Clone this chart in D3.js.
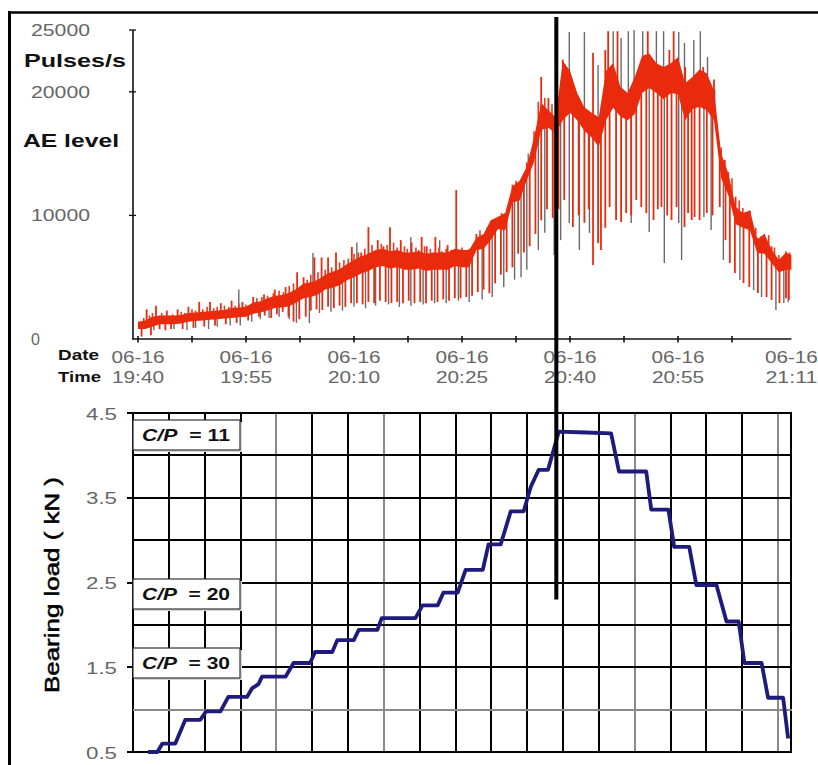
<!DOCTYPE html>
<html><head><meta charset="utf-8">
<script src="https://cdn.jsdelivr.net/npm/d3@7"></script>
<style>body{margin:0;background:#fff}svg{display:block}</style>
</head><body><svg id="c" width="818" height="765"></svg>
<script>
// ---------------- DATA ----------------
const dateLabel = "06-16";
const timeLabels = ["19:40", "19:55", "20:10", "20:25", "20:40", "20:55", "21:11"];
const timeLabelMinutes = [0, 15, 30, 45, 60, 75, 90.75];
const timeTickMinutes = [0, 7.5, 15, 22.5, 30, 37.5, 45, 52.5, 60, 67.5, 75, 82.5];
const aeTickValues = [25000, 20000, 10000, 0];
const aeTickLabels = ["25000", "20000", "10000", "0"];

const aeBandMinutes = [0,1,2,3,4,5,6,7,8,9,10,11,12,13,14,15,16,17,18,19,20,21,22,23,24,25,26,27,28,29,30,
  31,32,33,34,35,36,37,38,39,40,41,42,43,44,45,46,47,48,49,50,51,52,53,54,55,56,57,58,59,60,
  61,62,63,64,65,66,67,68,69,70,71,72,73,74,75,76,77,78,79,80,81,82,83,84,85,86,87,88,89,90,90.75];
const aeLevel = [1100,1150,1400,1550,1550,1550,1600,1750,1800,1850,
  1900,1950,2000,2100,2150,2200,2500,2600,2800,3000,
  3050,3200,3500,3900,4000,4200,4600,4800,5000,5400,
  5700,6000,6200,6500,6600,6400,6500,6300,6300,6400,
  6200,6300,6300,6300,6600,6500,6500,7700,7900,8800,
  9400,9500,11700,12000,13400,15300,18000,17800,17300,20100,
  20000,18800,17800,17300,16750,19700,20500,19200,18800,19700,
  21400,21700,21100,20700,21100,21300,19200,19900,20300,20000,
  18900,14000,12500,10000,9600,9600,7500,7700,6700,5900,
  6300,6200];
const aeSpread = [300,350,400,350,350,350,350,350,350,350,350,350,350,400,400,400,
  450,450,500,500,500,550,550,600,600,600,600,650,650,650,700,
  700,700,700,700,700,700,700,700,700,700,700,700,700,700,700,700,
  500,600,800,500,700,650,800,550,1000,1100,700,650,
  2400,1700,1100,950,1000,1200,2000,1800,1200,1100,1500,1500,1400,1200,1300,1200,1500,1500,1300,1500,1500,1200,
  1000,900,700,600,800,550,800,550,500,700,600];

const redDownMinutes = [0.5,1.8,3.0,3.8,4.6,6.2,7.7,9.2,10.7,12.2,13.7,15.3,
  16.8,17.6,18.5,19.3,20.1,20.9,21.6,22.4,23.3,24.0,24.8,25.6,26.4,27.2,28.0,28.8,29.6,30.4,31.2,32.0,32.8,33.6,34.4,35.2,36.0,36.8,37.6,38.4,39.2,40.0,40.8,41.6,42.4,43.2,44.0,44.8,45.6,46.4,47.2,48.0,48.8,49.6,50.4,51.2,52.0,52.8,53.6,54.4,55.2,56.0,56.8,57.6,58.4,
  59.2,60.4,61.2,62.0,62.6,63.2,63.9,64.3,64.9,65.5,66.4,67.1,67.8,68.5,69.2,69.9,70.6,71.6,72.2,72.7,73.5,74.1,74.8,75.9,76.4,76.9,77.3,78.0,79.0,79.8,80.8,81.6,82.2,82.9,84.1,84.9,86.1,87.3,88.0,89.1,90.0,90.4];
const redDownValues = [200,300,800,700,800,800,900,1000,1100,1200,1300,1500,
  1800,1900,1700,2000,2200,1800,1400,1600,1800,2300,2400,2350,2600,2500,2700,2600,2900,2900,2800,3000,2900,3100,3000,2900,3000,2900,3100,2900,3000,2900,3100,3000,3200,3100,3300,3300,3400,3500,3800,4000,3700,4500,5200,5400,5800,6900,7000,7500,8500,9600,10500,9800,10500,
  11250,9060,10000,9400,10500,5990,7770,7200,9000,10680,9630,9470,10190,10000,11250,10680,10190,9630,10500,10680,10000,9630,10680,9060,10200,9630,9870,9630,10190,10000,10680,8000,6150,5340,4530,4210,3720,3400,3160,2910,3300,3160];

const redUpMinutes = [1.2,2.5,4.0,5.5,7.0,8.5,10.0,11.5,13.0,14.5,16.0,17.5,19.0,20.5,22.1,23.0,24.5,25.5,26.4,27.5,29.7,31.0,32.0,33.3,34.1,35.0,36.5,38.0,39.4,40.1,41.3,43.0,44.2,45.5,47.0,48.5,50.0,51.5,53.0,54.5,56.0,57.0,59.0,63.2,64.9,65.3,66.6,70.8,73.8,74.4,76.0,78.5,80.0,81.5,83.0,84.5,86.0,88.0,89.5];
const redUpValues = [2400,2700,2300,2400,2600,3000,3000,2900,3100,3000,3400,3600,4000,4200,5400,5000,6600,6600,6600,7000,7450,7000,9050,8000,7500,9050,8000,7800,8250,7500,8250,7600,12050,7000,8500,9000,9600,10500,12000,14000,21200,19500,22600,23140,23380,24900,24900,24900,23380,24900,22000,22000,21000,14500,11500,10000,8200,7500,6600];

const redShortMinutes = [0.8,1.6,2.0,3.3,4.8,6.0,6.5,7.5,8.0,9.0,9.6,10.5,11.0,12.0,12.6,13.5,14.0,15.0,15.5,
  16.5,17.2,18.0,18.8,19.6,20.2,21.0,21.6,23.5,24.0,25.0,26.0,26.9,28.0,28.6,29.2,30.0,30.6,31.5,32.5,33.8,34.6,35.5,36.0,37.0,37.4,38.6,39.0,39.8,40.6,41.8,42.2,42.8,43.5,44.6,45.0,46.0,46.8,
  47.5,48.2,49.0,49.5,50.5,51.0,52.0,52.5,53.5,54.0,55.0,55.6,56.5,57.5,58.2,
  81.0,82.0,82.5,83.5,84.0,85.0,85.8,86.5,87.0,87.6,88.4,89.0,90.0,90.5];
const redShortValues = [1700,1900,2100,2100,2000,2200,2100,2400,2300,2400,2600,2500,2600,2700,2600,2700,2900,2800,2700,
  3300,3400,3500,3700,3900,3800,4300,4500,4800,5200,5400,5600,5800,6200,6400,6500,6900,7000,7300,7600,7700,7600,7800,7400,7500,7300,7400,7200,7500,7300,7400,7100,7300,7200,7000,7400,7300,7000,
  8800,8600,9500,9300,10200,10100,12500,12800,13000,14300,16800,19200,19500,19000,19000,
  15500,13500,13000,11200,10600,10400,9000,8300,8500,8400,7400,6800,7100,7000];

const grayDownMinutes = [2.2,5.0,6.8,8.0,9.8,11.0,12.8,14.2,15.8,17.0,18.2,19.6,21.0,22.0,23.8,25.2,26.8,28.4,30.0,31.6,33.0,34.8,36.3,37.9,39.6,41.2,42.8,44.5,46.0,47.8,49.2,50.8,52.3,53.2,54.0,55.6,56.5,57.8,58.7,59.9,61.3,62.7,68.5,71.0,73.1,75.1,75.5,78.6,79.6,81.3,83.6,85.5,86.6,88.6,89.7,90.3];
const grayDownValues = [700,800,700,900,800,1000,1100,1100,1400,1600,1700,1800,1600,1300,1290,2100,2200,2300,2600,2500,2700,2800,2600,2700,2800,2900,2900,3100,3000,3200,3400,4200,4800,5000,5600,7200,8600,6800,8000,9380,7200,8580,9380,8660,6150,9380,6390,9870,8820,6390,4770,3960,3400,2350,2910,2990];

const grayUpMinutes = [14.0,24.3,30.4,37.9,41.9,54.2,55.4,59.9,62.0,63.9,66.0,67.1,68.1,68.9,70.1,72.0,73.0,75.1,75.9,77.2,78.1,79.1,80.1];
const grayUpValues = [4000,6950,7800,8250,8000,15000,16700,24840,24840,22170,24900,24350,24900,25000,24900,24900,24900,24840,23950,24190,24900,22810,20140];

const markerMinute = 58.1;   // vertical marker (top time scale)
const markerLoadEnd = 2.3;   // marker reaches down to this load

const loadMinutes = [2.1,3.4,4.1,5.9,7.3,9.4,10.2,12.2,13.3,15.9,16.6,17.5,18.0,21.3,22.4,24.7,25.4,27.8,28.5,30.8,31.5,34.1,34.7,39.4,40.4,42.5,43.3,45.3,46.4,48.8,49.6,51.3,52.7,54.5,55.5,56.6,57.9,59.4,63.2,66.7,67.8,71.6,72.3,74.7,75.5,77.6,78.6,81.4,82.8,84.5,85.3,87.7,88.6,90.7,91.4];
const loadValues = [0.50,0.50,0.60,0.60,0.88,0.88,0.98,0.98,1.15,1.15,1.25,1.30,1.39,1.39,1.55,1.55,1.68,1.68,1.82,1.82,1.94,1.94,2.08,2.08,2.23,2.23,2.38,2.38,2.65,2.65,2.95,2.95,3.34,3.34,3.63,3.83,3.83,4.28,4.27,4.26,3.81,3.81,3.36,3.36,2.92,2.92,2.47,2.47,2.04,2.04,1.55,1.55,1.14,1.14,0.66];
const loadTicks = [4.5, 3.5, 2.5, 1.5, 0.5];
const loadTickLabels = ["4.5", "3.5", "2.5", "1.5", "0.5"];
const loadGrid = [0.5, 1.0, 1.5, 2.0, 2.5, 3.0, 3.5, 4.0, 4.5];
const gridMinutes = [0,5,10,15,20,25,30,35,40,45,50,55,60,65,70,75,80,85,90];
const cpRatios = ["11", "20", "30"];
const cpLoads = [4.24, 2.36, 1.55];

// ---------------- DRAW ----------------
const svg = d3.select("#c");
const FONT = "'Liberation Sans', Arial, sans-serif";

const topX = d3.scaleLinear().domain([0, 90.75]).range([138, 791.4]);
const topY = d3.scaleLinear().domain([0, 25000]).range([339, 30]);
const botX = d3.scaleLinear().domain([0, 91.8]).range([133, 791]);
const botY = d3.scaleLinear().domain([0.5, 4.5]).range([752, 413]);
const levelAt = d3.scaleLinear().domain(aeBandMinutes).range(aeLevel);

// outer frame
svg.append("line").attr("x1", 8).attr("x2", 818).attr("y1", 12.5).attr("y2", 12.5).attr("stroke", "#000").attr("stroke-width", 2.5);
svg.append("line").attr("x1", 9.5).attr("x2", 9.5).attr("y1", 11).attr("y2", 765).attr("stroke", "#000").attr("stroke-width", 3);

// ---- top chart ----
const topG = svg.append("g");
const spike = (sel, data, color, w) => sel.selectAll(null).data(data).join("line")
  .attr("x1", d => topX(d[0])).attr("x2", d => topX(d[0]))
  .attr("y1", d => topY(levelAt(d[0]))).attr("y2", d => topY(d[1]))
  .attr("stroke", color).attr("stroke-width", w);
spike(topG, d3.zip(grayDownMinutes, grayDownValues).concat(d3.zip(grayUpMinutes, grayUpValues)), "#6a6a6a", 1.4);
spike(topG, d3.zip(redDownMinutes, redDownValues).concat(d3.zip(redUpMinutes, redUpValues)), "#ea2a0c", 1.8);
spike(topG, d3.zip(redShortMinutes, redShortValues), "#ec3a1c", 1.6);
const band = aeBandMinutes.map((m, i) => [m, aeLevel[i], aeSpread[i]]);
topG.append("path").datum(band)
  .attr("d", d3.area().x(d => topX(d[0])).y0(d => topY(d[1] - d[2])).y1(d => topY(d[1] + d[2])))
  .attr("fill", "#ea2a0c");

// axes
topG.append("line").attr("x1", 133).attr("x2", 133).attr("y1", topY(25000)).attr("y2", topY(0)).attr("stroke", "#111").attr("stroke-width", 1.6);
topG.append("line").attr("x1", 132).attr("x2", topX(90.75)).attr("y1", topY(0)).attr("y2", topY(0)).attr("stroke", "#111").attr("stroke-width", 1.6);
topG.selectAll(".yt").data(aeTickValues.filter(v => v > 0)).join("line")
  .attr("x1", 129).attr("x2", 136).attr("y1", d => topY(d)).attr("y2", d => topY(d)).attr("stroke", "#111").attr("stroke-width", 1.3);
topG.selectAll(".xt").data(timeTickMinutes).join("line")
  .attr("x1", d => topX(d)).attr("x2", d => topX(d)).attr("y1", topY(0) - 3).attr("y2", topY(0) + 3.5).attr("stroke", "#111").attr("stroke-width", 1.6);
topG.selectAll(".yl").data(aeTickValues).join("text")
  .attr("x", 31).attr("y", d => topY(d) + 6)
  .attr("font-family", FONT).attr("font-size", 16).attr("fill", "#666")
  .text((d, i) => aeTickLabels[i])
  .each(function (d, i) { if (aeTickLabels[i].length > 1) d3.select(this).attr("textLength", 59).attr("lengthAdjust", "spacingAndGlyphs"); });
topG.selectAll(".dl").data(timeLabelMinutes).join("text")
  .attr("x", d => topX(d)).attr("y", 363).attr("text-anchor", "middle")
  .attr("font-family", FONT).attr("font-size", 17).attr("fill", "#666")
  .attr("textLength", 53).attr("lengthAdjust", "spacingAndGlyphs").text(dateLabel);
topG.selectAll(".tl").data(timeLabelMinutes).join("text")
  .attr("x", d => topX(d)).attr("y", 383).attr("text-anchor", "middle")
  .attr("font-family", FONT).attr("font-size", 17).attr("fill", "#666")
  .attr("textLength", 52).attr("lengthAdjust", "spacingAndGlyphs").text((d, i) => timeLabels[i]);
function boldText(x, y, size, len, txt) {
  svg.append("text").attr("x", x).attr("y", y).attr("font-family", FONT).attr("font-weight", "bold")
    .attr("font-size", size).attr("fill", "#111").attr("textLength", len).attr("lengthAdjust", "spacingAndGlyphs").text(txt);
}
boldText(24, 67, 18, 102, "Pulses/s");
boldText(23, 147, 18, 96, "AE level");
boldText(58, 360, 14.5, 41, "Date");
boldText(58, 382, 14.5, 43, "Time");

// ---- bottom chart ----
const botG = svg.append("g");
const grayV = [4, 7, 14, 18];
const px = v => Math.round(v);
botG.selectAll(".vg").data(gridMinutes).join("line")
  .attr("x1", d => px(botX(d))).attr("x2", d => px(botX(d))).attr("y1", px(botY(4.5))).attr("y2", px(botY(0.5)))
  .attr("stroke", (d, i) => grayV.includes(i) ? "#8a8a8a" : "#000").attr("stroke-width", 2);
botG.append("line").attr("x1", px(botX(91.8))).attr("x2", px(botX(91.8))).attr("y1", px(botY(4.5))).attr("y2", px(botY(0.5))).attr("stroke", "#000").attr("stroke-width", 2);
botG.selectAll(".hg").data(loadGrid).join("line")
  .attr("x1", 133).attr("x2", px(botX(91.8)) + 1).attr("y1", d => px(botY(d))).attr("y2", d => px(botY(d)))
  .attr("stroke", d => d === 1.0 ? "#8a8a8a" : "#000").attr("stroke-width", 2);
botG.selectAll(".lt").data(loadTicks).join("line")
  .attr("x1", 127).attr("x2", 133).attr("y1", d => px(botY(d))).attr("y2", d => px(botY(d))).attr("stroke", "#000").attr("stroke-width", 2);
botG.selectAll(".ll").data(loadTicks).join("text")
  .attr("x", 117).attr("y", d => botY(d) + 6.5).attr("text-anchor", "end")
  .attr("font-family", FONT).attr("font-size", 17).attr("fill", "#666")
  .attr("textLength", 31).attr("lengthAdjust", "spacingAndGlyphs").text((d, i) => loadTickLabels[i]);
botG.append("text").attr("transform", "translate(59,585) rotate(-90)").attr("text-anchor", "middle")
  .attr("font-family", FONT).attr("font-size", 19.5).attr("fill", "#000").attr("stroke", "#000").attr("stroke-width", 0.5)
  .attr("textLength", 216).attr("lengthAdjust", "spacingAndGlyphs").text("Bearing load ( kN )");

// C/P boxes
const boxes = botG.selectAll(".cp").data(cpLoads).join("g").attr("transform", d => `translate(133,${px(botY(d) - 15)})`);
boxes.append("rect").attr("x", 2).attr("y", 2).attr("width", 107).attr("height", 30).attr("fill", "#d8d8d8");
boxes.append("rect").attr("width", 107).attr("height", 30).attr("fill", "#fff").attr("stroke", "#333").attr("stroke-width", 1.2);
const bt = boxes.append("text").attr("x", 9).attr("y", 21).attr("font-family", FONT).attr("font-weight", "bold")
  .attr("font-size", 16.5).attr("fill", "#111").attr("textLength", 88).attr("lengthAdjust", "spacingAndGlyphs")
  .style("white-space", "pre");
bt.append("tspan").attr("font-style", "italic").text("C/P");
bt.append("tspan").text((d, i) => "  = " + cpRatios[i]);

// load step line
botG.append("path").datum(d3.zip(loadMinutes, loadValues))
  .attr("d", d3.line().x(d => botX(d[0])).y(d => botY(d[1])))
  .attr("fill", "none").attr("stroke", "#1f1b7d").attr("stroke-width", 3.8).attr("stroke-linejoin", "round");

// vertical marker
svg.append("line").attr("x1", topX(markerMinute)).attr("x2", topX(markerMinute))
  .attr("y1", 17).attr("y2", botY(markerLoadEnd)).attr("stroke", "#000").attr("stroke-width", 4);
</script></body></html>
